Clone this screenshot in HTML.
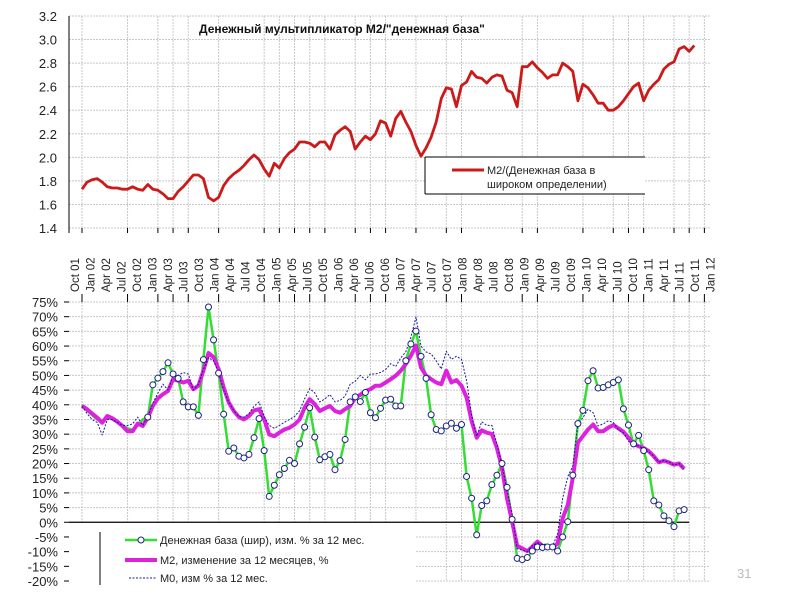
<!DOCTYPE html>
<html><head><meta charset="utf-8">
<style>
body{margin:0;background:#fff;}
svg{display:block;font-family:"Liberation Sans","DejaVu Sans",sans-serif;}
</style></head>
<body>
<svg id="chart" width="800" height="600" viewBox="0 0 800 600" xmlns="http://www.w3.org/2000/svg">
<rect width="800" height="600" fill="#fff"/>
<g id="top-grid"></g>
<g id="bot-grid"></g>
<g id="series"></g>
<text x="199" y="33" font-size="12" font-weight="bold" fill="#111">Денежный мультипликатор М2/"денежная база"</text>
<g>
<rect x="425" y="157" width="220" height="37" fill="#fff"/>
<line x1="425" y1="157" x2="645" y2="157" stroke="#000" stroke-width="1"/>
<line x1="425" y1="194" x2="645" y2="194" stroke="#000" stroke-width="1"/>
<line x1="425" y1="157" x2="425" y2="194" stroke="#000" stroke-width="1"/>
<line x1="452" y1="170" x2="484" y2="170" stroke="#cc1a1a" stroke-width="3"/>
<text x="487" y="174" font-size="11" fill="#222">М2/(Денежная база в</text>
<text x="487" y="188" font-size="11" fill="#222">широком определении)</text>
</g>
<g>
<line x1="100" y1="532" x2="100" y2="585" stroke="#000" stroke-width="1"/>
<line x1="125" y1="540" x2="157" y2="540" stroke="#33dd33" stroke-width="2.5"/>
<circle cx="141" cy="540" r="3" fill="#fff" stroke="#1a237e" stroke-width="1"/>
<text x="160" y="544" font-size="11" fill="#222">Денежная база (шир), изм. % за 12 мес.</text>
<line x1="125" y1="560" x2="157" y2="560" stroke="#dd22dd" stroke-width="4"/>
<text x="160" y="564" font-size="11" fill="#222">М2, изменение за 12 месяцев, %</text>
<line x1="129" y1="578" x2="157" y2="578" stroke="#1a1a99" stroke-width="1" stroke-dasharray="2,1.5"/>
<text x="160" y="582" font-size="11" fill="#222">М0, изм % за 12 мес.</text>
</g>
<text x="737" y="578" font-size="13" fill="#bbb">31</text>
</svg>
<script>
const ratioM2 = [1.73,1.79,1.81,1.82,1.79,1.75,1.74,1.74,1.73,1.73,1.75,1.73,1.72,1.77,1.73,1.72,1.69,1.65,1.65,1.71,1.75,1.80,1.85,1.85,1.82,1.66,1.63,1.66,1.76,1.82,1.86,1.89,1.93,1.98,2.02,1.98,1.90,1.84,1.95,1.91,1.99,2.04,2.07,2.13,2.13,2.12,2.09,2.13,2.13,2.07,2.19,2.23,2.26,2.22,2.07,2.13,2.18,2.15,2.20,2.31,2.29,2.18,2.33,2.39,2.30,2.22,2.10,2.01,2.08,2.17,2.30,2.50,2.59,2.58,2.43,2.61,2.64,2.73,2.68,2.67,2.63,2.68,2.70,2.69,2.57,2.55,2.43,2.77,2.77,2.81,2.76,2.72,2.67,2.70,2.70,2.80,2.77,2.73,2.48,2.62,2.59,2.53,2.46,2.46,2.40,2.40,2.43,2.48,2.54,2.60,2.63,2.48,2.57,2.62,2.66,2.75,2.79,2.81,2.92,2.94,2.90,2.95];
const baseGrowth = [40,38,36.5,35,34,36,35,34,33,32,31.5,33,35,35.8,46.8,49.1,51.3,54.3,50.5,49,41,39.3,39.3,36.4,55.4,73.3,62.1,50.8,36.8,24.2,25.3,22.5,21.9,23.1,28.8,35.3,24.4,8.8,12.6,16.2,18.3,21.1,20,26.7,32.4,39,29,21.3,22.3,23.1,17.9,21,28.2,41,42.7,41.1,44.2,37.3,35.6,38.8,41.6,41.9,39.6,39.6,55,60.7,65.1,56.5,49,36.6,31.6,31.1,32.8,33.7,32,33.3,15.6,8.2,-4.3,5.7,7.3,12.8,16,20,11.9,1,-12.3,-12.7,-12,-9.8,-8.4,-8.6,-8.4,-8.4,-9.8,-5,0.2,16,33.6,38.1,48.2,51.6,45.7,45.9,46.8,47.6,48.5,38.6,33.1,26.7,29.6,24.4,17.9,7.3,5.9,2.2,0.5,-1.5,3.9,4.3];
const m2Growth = [39.6,38.5,37,35.6,33.9,36.2,35.4,34.2,32.8,31,31,33.6,32.8,35.6,39.6,42.2,43.6,44.7,48.7,48.2,47.6,48.2,45.3,46.5,51.6,57.6,56.2,52.2,45.9,40.8,37.9,35.8,35,36.2,38.1,38.5,35,29.9,29.3,30.5,31.6,32.2,33.3,35,39,41.9,40.2,37.9,38.8,39.6,37.9,37.3,38.5,39.6,42.5,43.4,44.7,45.3,46.5,46.5,47.6,48.7,49.9,51.6,53.9,56.7,60.2,52.7,49.9,48.7,47.6,47,51.6,47.6,48.4,46.5,42.5,34.5,28.8,31.3,30.5,30.1,25.3,18.5,8.2,0.2,-8,-8.9,-9.8,-8.3,-6.6,-8,-8.3,-8.7,-7.2,1.4,5.9,15.1,27.1,29.3,31.6,33.3,31,31,32.2,33.1,32,30.8,28.8,26.7,25.9,25.3,24.2,22.5,20.4,21,20.4,19.6,20,18.2];
const m0Growth = [39.6,37,35,34,29.7,35,35,34,33,33,33.5,35.8,33,36,40.5,44,47,45,50,50,51,50.5,45,47,52,56,55,51,45,41,38,36,35.8,37,39.5,41,36,33,32,33,34,35,36,38,42,45.5,44,41,42,43.5,41,41.5,43,47,48,50,48.5,50.5,50.5,51,52,54,53,56,58,63,69.9,60,58,57.3,55,52.2,58.2,55.5,56.5,55.5,48.2,36.5,29.3,34.2,33,33,26.5,19.6,11,3,-9,-9.5,-10,-8,-7,-7.5,-7.5,-8,-4,8.2,15.6,19.1,33.6,35.6,38.5,37.3,32.8,33.5,34.5,34,31.5,30.5,27.6,26,26,25,24,22.5,20.5,21,20.5,19.5,20,18];
const quarterLabels = ["Oct 01","Jan 02","Apr 02","Jul 02","Oct 02","Jan 03","Apr 03","Jul 03","Oct 03","Jan 04","Apr 04","Jul 04","Oct 04","Jan 05","Apr 05","Jul 05","Oct 05","Jan 06","Apr 06","Jul 06","Oct 06","Jan 07","Apr 07","Jul 07","Oct 07","Jan 08","Apr 08","Jul 08","Oct 08","Jan 09","Apr 09","Jul 09","Oct 09","Jan 10","Apr 10","Jul 10","Oct 10","Jan 11","Apr 11","Jul 11","Oct 11","Jan 12"];
const topTicks = [1.4,1.6,1.8,2.0,2.2,2.4,2.6,2.8,3.0,3.2];
const botTicks = [75,70,65,60,55,50,45,40,35,30,25,20,15,10,5,0,-5,-10,-15,-20];
const gridQuarters = [0,3,5,6,7,9,12,13,14,15,16,18,19,20,22,24,25,29,30,33,35,36,37,39,40,41];

const NS="http://www.w3.org/2000/svg";
function mk(tag, attrs, parent){const e=document.createElementNS(NS,tag);for(const k in attrs)e.setAttribute(k,attrs[k]);parent.appendChild(e);return e;}
const xs = m => 82 + 5.06*m;
const yTop = v => 16 + (3.2 - v)*117.8;
const yBot = v => 302 + (75 - v)*2.937;
const L=69, R=710;

const tg=document.getElementById('top-grid');
topTicks.forEach(v=>{
  const y=yTop(v);
  const ln=mk('line',{x1:L,y1:y,x2:R,y2:y,stroke:'#c8c8c8','stroke-width':1,'stroke-dasharray':'2,1'},tg);
  
  
  const t=mk('text',{x:57,y:y+5,'font-size':13,'text-anchor':'end',fill:'#222'},tg);
  t.textContent=v.toFixed(1);
  
  
});
mk('line',{x1:L,y1:16,x2:L,y2:233,stroke:'#000','stroke-width':1},tg);
gridQuarters.forEach(q=>{
  const x=xs(q*3);
  mk('line',{x1:x,y1:16,x2:x,y2:228,stroke:'#c8c8c8','stroke-width':1,'stroke-dasharray':'2,1'},tg);
  mk('line',{x1:x,y1:228,x2:x,y2:233,stroke:'#000','stroke-width':1},tg);
});
quarterLabels.forEach((lab,i)=>{
  const cx=75+i*15.5;
  const t=mk('text',{x:0,y:0,'font-size':11.5,fill:'#222',transform:`translate(${cx+4},292) rotate(-90)`},tg);
  t.textContent=lab;
  
  
});

const bg=document.getElementById('bot-grid');
botTicks.forEach(v=>{
  const y=yBot(v);
  const x1 = v<0 ? 416 : L;
  if(v!==0) mk('line',{x1:x1,y1:y,x2:R,y2:y,stroke:'#c8c8c8','stroke-width':1,'stroke-dasharray':'2,1'},bg);
  mk('line',{x1:64,y1:y,x2:L,y2:y,stroke:'#000','stroke-width':1},bg);
  const t=mk('text',{x:58,y:y+5,'font-size':13,'text-anchor':'end',fill:'#222'},bg);
  t.textContent=v+'%';
  
  
});
gridQuarters.forEach(q=>{
  const x=xs(q*3);
  const yb = x>416 ? yBot(-20) : yBot(0);
  mk('line',{x1:x,y1:302,x2:x,y2:yb,stroke:'#c8c8c8','stroke-width':1,'stroke-dasharray':'2,1'},bg);
  mk('line',{x1:x,y1:294,x2:x,y2:302,stroke:'#000','stroke-width':1},bg);
});
const zl=mk('line',{x1:L,y1:yBot(0),x2:xs(120),y2:yBot(0),stroke:'#000','stroke-width':1.2},bg);



const sg=document.getElementById('series');
function poly(arr, yf, attrs, name){
  const p=mk('polyline',Object.assign({points:arr.map((v,i)=>xs(i).toFixed(1)+','+yf(v).toFixed(1)).join(' '),fill:'none','stroke-linejoin':'round'},attrs),sg);
  
  
}
poly(ratioM2, yTop, {stroke:'#cc1a1a','stroke-width':2.8}, 'm2-base-ratio-line');
poly(baseGrowth, yBot, {stroke:'#33dd33','stroke-width':2.5}, 'monetary-base-growth-line');
poly(m2Growth, yBot, {stroke:'#dd22dd','stroke-width':4}, 'm2-growth-line');
poly(m0Growth, yBot, {stroke:'#1a1a99','stroke-width':1,'stroke-dasharray':'2,1.5'}, 'm0-growth-line');
baseGrowth.forEach((v,i)=>{
  if(i<13) return;
  const c=mk('circle',{cx:xs(i),cy:yBot(v),r:3,fill:'#fff',stroke:'#1a237e','stroke-width':1},sg);
  
  
});
</script>
</body></html>
